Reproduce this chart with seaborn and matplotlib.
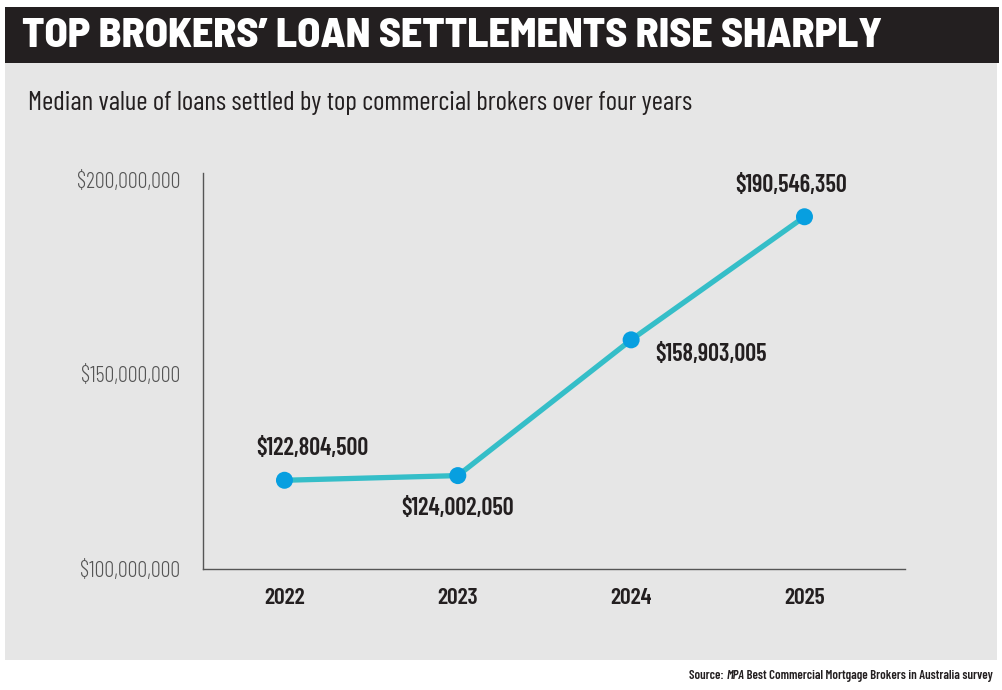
import matplotlib
matplotlib.use("Agg")
import matplotlib.pyplot as plt
from matplotlib.patches import Rectangle
from matplotlib.ticker import FuncFormatter
import seaborn as sns
import pandas as pd

years = ["2022", "2023", "2024", "2025"]
values = [122804500, 124002050, 158903005, 190546350]
y_ticks = [100000000, 150000000, 200000000]

TITLE = "TOP BROKERS\u2019 LOAN SETTLEMENTS RISE SHARPLY"
SUBTITLE = "Median value of loans settled by top commercial brokers over four years"

LINE_COLOR = "#35BEC8"
DOT_COLOR = "#079FE0"
PANEL = "#E6E6E6"
DARK = "#231F20"

sns.set_theme(style="white")
FONTS = ["Barlow Condensed", "Roboto Condensed", "DejaVu Sans"]
plt.rcParams["font.family"] = FONTS

df = pd.DataFrame({"year": years, "value": values})

fig = plt.figure(figsize=(10.02, 6.9), dpi=100)
fig.patch.set_facecolor("white")

# gray panel + black title bar (behind the axes)
fig.patches.append(Rectangle((0.005, 0.0435), 0.99, 0.8652, transform=fig.transFigure,
                             facecolor=PANEL, edgecolor="none", zorder=-2))
fig.patches.append(Rectangle((0.005, 0.9087), 0.992, 0.0812, transform=fig.transFigure,
                             facecolor=DARK, edgecolor="none", zorder=-1))

fig.text(0.022, 0.948, TITLE, color="white", fontsize=30.3, fontweight=800,
         va="center", ha="left",
         family=["Barlow Semi Condensed", "Barlow Condensed", "DejaVu Sans"])
fig.text(0.028, 0.851, SUBTITLE, color=DARK, fontsize=19.5, va="center", ha="left")

ax = fig.add_axes([0.2026, 0.1754, 0.7006, 0.5739])
ax.set_facecolor("none")

sns.lineplot(data=df, x="year", y="value", color=LINE_COLOR, linewidth=3.8,
             ax=ax, zorder=2)
sns.scatterplot(data=df, x="year", y="value", color=DOT_COLOR, s=150,
                edgecolor="none", ax=ax, zorder=3)

ax.set_xlim(-0.47, 3.58)
ax.set_ylim(100000000, 201800000)
ax.set_yticks(y_ticks)
ax.yaxis.set_major_formatter(FuncFormatter(lambda v, p: f"${v:,.0f}"))
ax.set_xlabel("")
ax.set_ylabel("")

for s in ["top", "right"]:
    ax.spines[s].set_visible(False)
for s in ["left", "bottom"]:
    ax.spines[s].set_color("#555555")
    ax.spines[s].set_linewidth(1.0)

ax.tick_params(axis="y", length=0, pad=16.5, labelsize=16, labelcolor="#555555")
ax.tick_params(axis="x", length=0, pad=14, labelsize=17, labelcolor=DARK)
for t in ax.get_yticklabels():
    t.set_fontweight(300)
for t in ax.get_xticklabels():
    t.set_fontweight(600)

# value labels
offsets = [(28, 32, "center"), (0, -33, "center"), (24, -15, "left"), (-13, 31, "center")]
for i, (v, (dx, dy, ha)) in enumerate(zip(values, offsets)):
    ax.annotate(f"${v:,.0f}", xy=(i, v), xytext=(dx, dy), textcoords="offset pixels",
                ha=ha, va="center", fontsize=17.5, fontweight=600, color=DARK)

# source line, with MPA in italics
src = fig.text(0.991, 0.02, " Best Commercial Mortgage Brokers in Australia survey",
               ha="right", va="center", fontsize=9.2, fontweight=600, color=DARK)
mpa = ax.annotate("MPA", xy=(0, 0.5), xycoords=src, ha="right", va="center",
                  fontsize=9.2, fontweight=600, style="italic", color=DARK,
                  annotation_clip=False)
ax.annotate("Source: ", xy=(0, 0.5), xycoords=mpa, ha="right", va="center",
            fontsize=9.2, fontweight=600, color=DARK, annotation_clip=False)

fig.savefig("out.png", dpi=100)
